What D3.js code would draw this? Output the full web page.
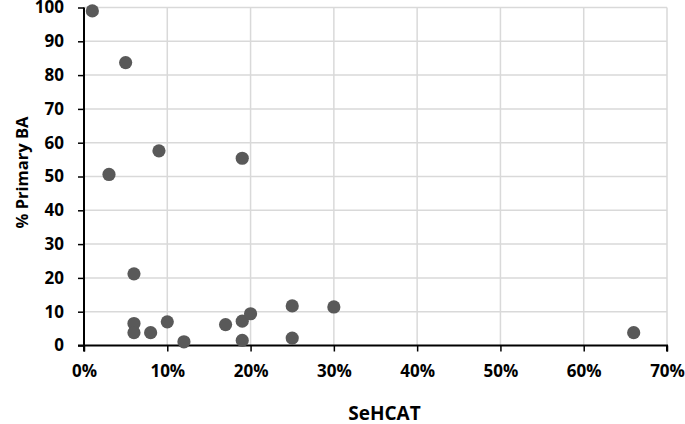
<!DOCTYPE html>
<html><head><meta charset="utf-8">
<script src="https://cdn.jsdelivr.net/npm/d3@7"></script>
<style>body{margin:0;background:#fff}svg{display:block}text{font-family:"Open Sans",sans-serif;font-weight:bold;fill:#000}</style>
</head><body><svg id="c" width="685" height="424"></svg>
<script>
const sehcat = [1,5,9,19,3,6,6,6,8,10,12,17,19,19,20,25,25,30,66];
const primaryBA = [99,83.7,57.6,55.4,50.6,21.2,6.5,3.8,3.8,7.0,1.1,6.2,7.2,1.5,9.4,11.7,2.2,11.4,3.8];
const xTicks = [0,10,20,30,40,50,60,70];
const yTicks = [0,10,20,30,40,50,60,70,80,90,100];
const xTitle = "SeHCAT", yTitle = "% Primary BA";

const svg = d3.select("#c");
const L=84, R=667, T=7.5, B=345.5;
const x = d3.scaleLinear().domain([0,70]).range([L,R]);
const y = d3.scaleLinear().domain([0,100]).range([B,T]);

const g = svg.append("g");
g.selectAll(".vg").data(xTicks.slice(1)).join("line")
 .attr("x1",d=>x(d)).attr("x2",d=>x(d)).attr("y1",T).attr("y2",B)
 .attr("stroke","#d9d9d9").attr("stroke-width",1.5);
g.selectAll(".hg").data(yTicks.slice(1)).join("line")
 .attr("x1",L).attr("x2",R).attr("y1",d=>y(d)).attr("y2",d=>y(d))
 .attr("stroke","#d9d9d9").attr("stroke-width",1.5);

const xa = svg.append("g").attr("transform",`translate(0,${B})`)
 .call(d3.axisBottom(x).tickValues(xTicks).tickFormat(d=>d+"%").tickSize(6).tickPadding(13.5));
const ya = svg.append("g").attr("transform",`translate(${L},0)`)
 .call(d3.axisLeft(y).tickValues(yTicks).tickSize(6).tickPadding(14));
[xa,ya].forEach(a=>{a.select(".domain").attr("stroke","#000").attr("stroke-width",2);
 a.selectAll(".tick line").attr("stroke","#000").attr("stroke-width",1.5);
 a.selectAll("text").style("font-size","17px").style("font-family","'Open Sans',sans-serif").style("font-weight","bold");});
xa.select(".domain").attr("d",`M${L},6V0H${R}V6`);
ya.select(".domain").attr("d",`M-6,${B}H0V${T}`);

svg.selectAll(".pt").data(sehcat.map((v,i)=>[v,primaryBA[i]])).join("circle")
 .attr("cx",d=>x(d[0])).attr("cy",d=>y(d[1])).attr("r",6.6).attr("fill","#595959");

svg.append("text").attr("x",384.5).attr("y",419.5).attr("text-anchor","middle").style("font-size","19px").text(xTitle);
svg.append("text").attr("transform","translate(28,172.5) rotate(-90)").attr("text-anchor","middle").style("font-size","16.5px").text(yTitle);
</script></body></html>
